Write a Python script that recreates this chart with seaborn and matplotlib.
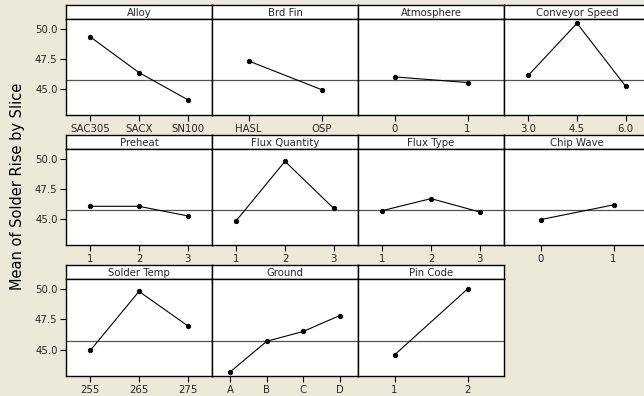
import matplotlib
matplotlib.use("Agg")
import matplotlib.pyplot as plt
import seaborn as sns
import pandas as pd

# ---- podaci (procitano sa slike) ----
factor_names = ["Alloy", "Brd Fin", "Atmosphere", "Conveyor Speed",
                "Preheat", "Flux Quantity", "Flux Type", "Chip Wave",
                "Solder Temp", "Ground", "Pin Code"]

factor_levels = [["SAC305", "SACX", "SN100"],
                 ["HASL", "OSP"],
                 ["0", "1"],
                 ["3.0", "4.5", "6.0"],
                 ["1", "2", "3"],
                 ["1", "2", "3"],
                 ["1", "2", "3"],
                 ["0", "1"],
                 ["255", "265", "275"],
                 ["A", "B", "C", "D"],
                 ["1", "2"]]

factor_means = [[49.33, 46.36, 44.10],
                [47.33, 44.94],
                [46.00, 45.53],
                [46.13, 50.47, 45.22],
                [46.05, 46.05, 45.25],
                [44.86, 49.80, 45.88],
                [45.69, 46.69, 45.58],
                [44.94, 46.17],
                [44.94, 49.80, 46.97],
                [43.17, 45.69, 46.50, 47.81],
                [44.56, 50.00]]

grand_mean = 45.75
y_ticks = [45.0, 47.5, 50.0]

rows = []
for name, levels, means in zip(factor_names, factor_levels, factor_means):
    for lev, m in zip(levels, means):
        rows.append({"factor": name, "level": lev, "mean": m})
df = pd.DataFrame(rows)

# ---- izgled ----
sns.set_theme(style="white")
plt.rcParams["font.family"] = ["DejaVu Sans"]
bg = "#ECE9D8"

W, H = 644, 396
fig = plt.figure(figsize=(W / 100, H / 100), dpi=100, facecolor=bg)


def px_axes(x0, top, w, h):
    return fig.add_axes([x0 / W, 1 - (top + h) / H, w / W, h / H])


col_x = [66, 212, 358, 504]
col_w = 146
row_top = [5, 135, 265]
strip_h = 14.3
plot_h = [96, 96, 97]

for i, name in enumerate(factor_names):
    r, c = divmod(i, 4)
    levels = factor_levels[i]

    # traka sa nazivom faktora
    sax = px_axes(col_x[c], row_top[r], col_w, strip_h)
    sax.set_facecolor("white")
    sax.set_xticks([])
    sax.set_yticks([])
    for s in sax.spines.values():
        s.set_color("black")
        s.set_linewidth(1.0)
    sax.text(0.5, 0.45, name, ha="center", va="center", fontsize=7.3,
             transform=sax.transAxes)

    ax = px_axes(col_x[c], row_top[r] + strip_h, col_w, plot_h[r])
    ax.set_facecolor("white")
    ax.axhline(grand_mean, color="#555555", lw=0.9, zorder=1)
    sns.pointplot(data=df[df["factor"] == name], x="level", y="mean",
                  order=levels, color="black", markers="o",
                  markersize=3.2, linewidth=0.8, errorbar=None, ax=ax)
    ax.set_xlim(-0.5, len(levels) - 0.5)
    ax.set_ylim(42.8, 50.8)
    ax.set_xlabel("")
    ax.set_ylabel("")
    ax.tick_params(axis="x", bottom=True, length=4, width=0.8, pad=2,
                   labelsize=7.3, color="black")
    if c == 0:
        ax.set_yticks(y_ticks)
        ax.set_yticklabels([f"{v:.1f}" for v in y_ticks])
        ax.tick_params(axis="y", left=True, length=4, width=0.8, pad=2,
                       labelsize=7.3, color="black")
    else:
        ax.set_yticks([])
    for s in ax.spines.values():
        s.set_color("black")
        s.set_linewidth(1.0)

fig.text(18 / W, 1 - 186 / H, "Mean of Solder Rise by Slice", rotation=90,
         ha="center", va="center", fontsize=10.5, color="black")

fig.savefig("out.png", dpi=100, facecolor=bg)
